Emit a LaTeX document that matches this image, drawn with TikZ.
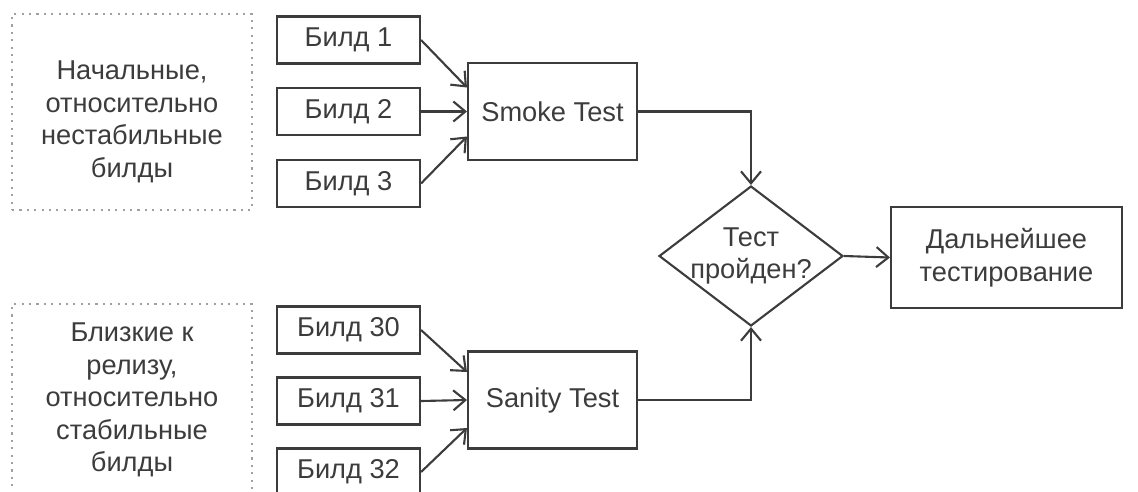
\documentclass[tikz,border=0pt]{standalone}
\usepackage{fontspec}
\setmainfont{Liberation Sans}
\usetikzlibrary{arrows.meta,shapes.geometric,calc}

\definecolor{linegray}{HTML}{3C3C3C}
\definecolor{dotgray}{HTML}{A0A0A0}

\begin{document}
\begin{tikzpicture}[x=0.02cm, y=-0.02cm,
                    every node/.style={font=\fontsize{15.5}{18.5}\selectfont, text=linegray},
                    box/.style={draw=linegray, line width=1.2pt, minimum width=2.86cm, minimum height=0.94cm},
                    testbox/.style={draw=linegray, line width=1.2pt, minimum width=3.38cm, minimum height=1.94cm},
                    note/.style={draw=dotgray, line width=1.3pt, dash pattern=on 1.2pt off 3pt, minimum width=4.8cm, minimum height=3.92cm},
                    decision/.style={diamond, draw=linegray, line width=1.2pt, inner sep=0pt, minimum width=3.68cm, minimum height=2.8cm},
                    arr/.style={draw=linegray, line width=1.2pt, -{Straight Barb[length=2.4mm,width=4mm]}}
]
\useasboundingbox (0,0) rectangle (1138,491);

% upper group
\node [note] at (132,112) (note1) {};
\node [align=center] at (132,122) (note1text) {Начальные,\\относительно\\нестабильные\\билды};
\node [box] at (348.5,40) (b1) {Билд 1};
\node [box] at (348.5,111.5) (b2) {Билд 2};
\node [box] at (348.5,183.5) (b3) {Билд 3};
\node [testbox] at (552.5,111.5) (smoke) {Smoke Test};
%
% lower group
\node [note] at (132,402) (note2) {};
\node [align=center] at (132,400) (note2text) {Близкие к\\релизу,\\относительно\\стабильные\\билды};
\node [box] at (348.5,330) (b30) {Билд 30};
\node [box] at (348.5,401) (b31) {Билд 31};
\node [box] at (348.5,472) (b32) {Билд 32};
\node [testbox] at (552.5,400) (sanity) {Sanity Test};
%
\node [decision] at (751,256) (check) {};
\node [align=center] at (check.center) (checktext) {Тест\\пройден?};
\node [draw=linegray, line width=1.2pt, align=center, minimum width=4.62cm, minimum height=2.02cm] at (1006.5,257.5) (next) {Дальнейшее\\тестирование};
%
\draw [arr] (b1.east) -- ($(smoke.west)+(0,-24)$);
\draw [arr] (b2.east) -- (smoke.west);
\draw [arr] (b3.east) -- ($(smoke.west)+(0,25)$);
\draw [arr] (b30.east) -- ($(sanity.west)+(0,-28)$);
\draw [arr] (b31.east) -- (sanity.west);
\draw [arr] (b32.east) -- ($(sanity.west)+(0,28)$);
%
\draw [arr] (smoke.east) -| (check.north);
\draw [arr] (sanity.east) -| (check.south);
\draw [arr] (check.east) -- (next.west);
\end{tikzpicture}
\end{document}
